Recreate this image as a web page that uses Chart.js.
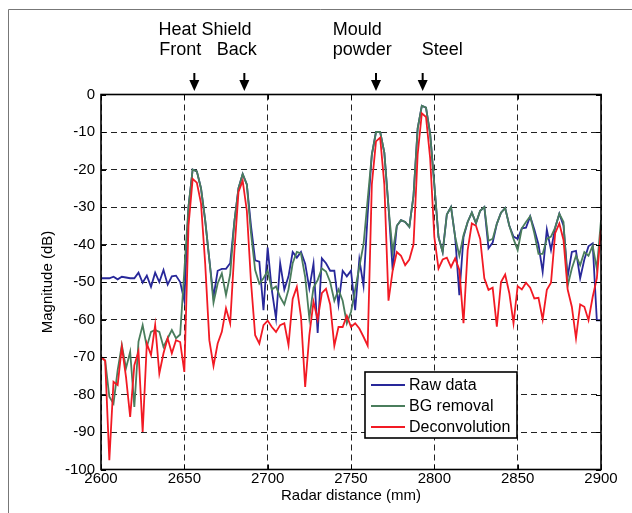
<!DOCTYPE html>
<html>
<head>
<meta charset="utf-8">
<title>Radar range profile</title>
<script src="https://cdn.jsdelivr.net/npm/chart.js@4.4.0/dist/chart.umd.min.js"></script>
<style>
  html, body { margin: 0; padding: 0; background: #fff; }
  #wrap { width: 632px; height: 513px; }
</style>
</head>
<body>
<div id="wrap"><canvas id="radarChart" width="632" height="513"></canvas></div>
<script>
// sampling of the range profile (mm)
const startDistance = 2600;
const stepDistance = 2.5;

// magnitude (dB), one value per sample
const rawData = [
  -49, -49, -49, -48.6, -49.3, -48.6, -48.8, -49, -49, -47.5,
  -50.2, -48.3, -51.3, -47.5, -50, -46.8, -50.7, -48.5, -48.3, -50,
  -55, -30, -20, -20.5, -25, -33.5, -44, -54, -47, -46.5,
  -46.5, -45, -34, -25, -21.2, -24, -35, -44.2, -44.6, -57.5,
  -40.8, -52.2, -59.7, -45, -52, -48.5, -42, -43.5, -42, -45.1,
  -51.7, -45.1, -63.6, -43.7, -45, -47, -47, -56, -47, -48.5,
  -47, -57.5, -44, -51, -32, -16, -10, -10, -15.5, -30,
  -46.8, -35, -33.5, -34, -35.3, -27, -9, -3, -3.5, -10.5,
  -24, -38, -42, -32, -30, -38, -53.5, -38, -34, -31.5,
  -34.3, -31, -30, -41, -39.5, -34.5, -31.5, -30.3, -35, -37.9,
  -38.5, -35.7, -35.5, -32.5, -36, -40, -47.3, -36, -41.5, -35.5,
  -31.8, -35, -48.6, -42, -41.7, -49, -44, -40.5, -39.7, -60.2,
  -60.2
];

const bgRemoval = [
  -70, -70.9, -80.6, -82.4, -73.5, -66.8, -73, -68.6, -83.3, -65.9,
  -61.5, -67.3, -63.3, -62.8, -63.3, -67.3, -65, -62.8, -65, -64,
  -47, -29.8, -20, -20.5, -25, -33.5, -44, -55.5, -50.4, -47.7,
  -53.5, -48, -34, -25, -21.2, -24, -37, -46.8, -50.4, -49,
  -47, -52, -51.2, -54, -56, -52, -45, -42, -42.4, -48.6,
  -59.7, -51.5, -49.5, -46.4, -47.2, -50, -55, -52, -55, -61,
  -58, -52, -46, -40, -28, -16, -10, -10, -15.5, -30,
  -42, -35, -33.5, -34, -35.3, -27, -9, -3, -3.5, -10.5,
  -24, -38, -42, -32, -30, -38, -43, -37.5, -34, -31.5,
  -34.3, -31, -30, -39, -38.5, -34.5, -31.5, -30.3, -35, -38.5,
  -41.5, -35.7, -34, -32.5, -37, -42.5, -42.5, -38.5, -37.9, -35.5,
  -31.8, -34, -51, -46.4, -43, -45.5, -42, -43, -40.3, -46.5,
  -33.5
];

const deconvolution = [
  -70, -71, -97.5, -76.6, -77.5, -67.3, -75.3, -86, -72.2, -68.5,
  -90, -66.4, -69.5, -61.5, -74.4, -69, -65, -69, -65.5, -66,
  -74, -35, -22.5, -23.5, -29, -45, -65.5, -72.4, -66.4, -63.3,
  -57, -61, -42, -26, -23, -31, -50, -64.2, -66.4, -61.5,
  -60.3, -62, -63.3, -61.5, -61, -66.8, -54.5, -51.3, -59.3, -78,
  -64.2, -55.3, -60, -53, -51.8, -56, -67, -62, -62, -59,
  -62, -61, -62.4, -64.6, -67, -24, -12.5, -11.5, -24, -55,
  -47, -42, -43, -45.5, -44, -40, -16, -5, -6, -17,
  -38, -46.4, -44, -43.5, -46, -43.7, -46.8, -61, -41.5, -34.4,
  -35, -38.5, -49, -52.1, -51.5, -61.9, -50, -48, -53, -61,
  -51.1, -52, -50.2, -51.5, -54.4, -54.2, -60, -52.1, -50.2, -37,
  -34.4, -38.8, -52, -56.6, -65, -56, -56.6, -60.2, -54, -49,
  -36
];

const distance = rawData.map((_, i) => startDistance + i * stepDistance);

// axis ticks
const xTicks = [2600, 2650, 2700, 2750, 2800, 2850, 2900];
const yTicks = [-100, -90, -80, -70, -60, -50, -40, -30, -20, -10, 0];

// features pointed at by arrows (mm)
const markerDistance = [2656, 2686, 2765, 2793];
// header text above the arrows: text, left edge (mm), row
const headerText = [
  ['Heat Shield', 2634.5, 0],
  ['Front', 2635, 1],
  ['Back', 2669.5, 1],
  ['Mould', 2739, 0],
  ['powder', 2739, 1],
  ['Steel', 2792.5, 1]
];

const fontFamily = "'Liberation Sans', Arial, Helvetica, sans-serif";
const axisFont = { family: fontFamily, size: 15 };

function toPoints(values) {
  return values.map((v, i) => ({ x: distance[i], y: v }));
}

// box, inward ticks, legend, arrows and header text
const framePlugin = {
  id: 'frame',
  afterDraw(chart) {
    const ctx = chart.ctx;
    const area = chart.chartArea;
    const xs = chart.scales.x;
    const ys = chart.scales.y;

    ctx.save();
    ctx.strokeStyle = '#000';
    ctx.lineWidth = 1;
    ctx.beginPath();
    xTicks.forEach((v) => {
      const px = Math.round(xs.getPixelForValue(v)) + 0.5;
      ctx.moveTo(px, area.bottom); ctx.lineTo(px, area.bottom - 5);
      ctx.moveTo(px, area.top); ctx.lineTo(px, area.top + 5);
    });
    yTicks.forEach((v) => {
      const py = Math.round(ys.getPixelForValue(v)) + 0.5;
      ctx.moveTo(area.left, py); ctx.lineTo(area.left + 5, py);
      ctx.moveTo(area.right, py); ctx.lineTo(area.right - 5, py);
    });
    ctx.stroke();

    ctx.lineWidth = 1.6;
    ctx.strokeRect(area.left, area.top, area.right - area.left, area.bottom - area.top);

    // legend
    const box = { left: 365, top: 372, width: 152, height: 66 };
    ctx.fillStyle = '#fff';
    ctx.fillRect(box.left, box.top, box.width, box.height);
    ctx.lineWidth = 1.6;
    ctx.strokeRect(box.left, box.top, box.width, box.height);
    ctx.font = '16px ' + fontFamily;
    ctx.textBaseline = 'middle';
    ctx.textAlign = 'left';
    chart.data.datasets.forEach((ds, i) => {
      const y = box.top + 13 + i * 21;
      ctx.strokeStyle = ds.borderColor;
      ctx.lineWidth = 1.8;
      ctx.beginPath();
      ctx.moveTo(box.left + 6, y);
      ctx.lineTo(box.left + 40, y);
      ctx.stroke();
      ctx.fillStyle = '#000';
      ctx.fillText(ds.label, box.left + 44, y + 1);
    });

    // arrows
    ctx.fillStyle = '#000';
    ctx.strokeStyle = '#000';
    markerDistance.forEach((d) => {
      const px = xs.getPixelForValue(d);
      ctx.lineWidth = 2;
      ctx.beginPath();
      ctx.moveTo(px, 73);
      ctx.lineTo(px, 82);
      ctx.stroke();
      ctx.beginPath();
      ctx.moveTo(px - 5, 80);
      ctx.lineTo(px + 5, 80);
      ctx.lineTo(px, 91);
      ctx.closePath();
      ctx.fill();
    });

    ctx.font = '18px ' + fontFamily;
    ctx.textBaseline = 'alphabetic';
    headerText.forEach(([text, d, row]) => {
      ctx.fillText(text, xs.getPixelForValue(d), 35 + row * 20);
    });

    // figure border
    ctx.strokeStyle = '#777';
    ctx.lineWidth = 1;
    ctx.beginPath();
    ctx.moveTo(8.5, 513);
    ctx.lineTo(8.5, 9.5);
    ctx.lineTo(632, 9.5);
    ctx.stroke();
    ctx.restore();
  }
};

new Chart(document.getElementById('radarChart'), {
  type: 'line',
  data: {
    datasets: [
      { label: 'Raw data', data: toPoints(rawData), borderColor: '#28289a', order: 3 },
      { label: 'BG removal', data: toPoints(bgRemoval), borderColor: '#4a7d5c', order: 2 },
      { label: 'Deconvolution', data: toPoints(deconvolution), borderColor: '#f21a24', order: 1 }
    ]
  },
  options: {
    responsive: false,
    animation: false,
    devicePixelRatio: 1,
    layout: { padding: { left: 34.6, top: 94.5, right: 31, bottom: 6.6 } },
    elements: {
      line: { borderWidth: 1.8, tension: 0, fill: false },
      point: { radius: 0 }
    },
    plugins: { legend: { display: false }, tooltip: { enabled: false } },
    scales: {
      x: {
        type: 'linear',
        min: 2600,
        max: 2900,
        afterBuildTicks: (s) => { s.ticks = xTicks.map((v) => ({ value: v })); },
        afterFit: (s) => { s.height = 36.9; },
        ticks: { color: '#000', font: axisFont, padding: 0, maxRotation: 0, callback: (v) => String(v) },
        grid: { color: '#222', lineWidth: 1, drawTicks: false },
        border: { display: false, dash: [6, 4] },
        title: { display: true, text: 'Radar distance (mm)', color: '#000', font: axisFont, padding: { top: 0, bottom: 2 } }
      },
      y: {
        type: 'linear',
        min: -100,
        max: 0,
        afterBuildTicks: (s) => { s.ticks = yTicks.map((v) => ({ value: v })); },
        afterFit: (s) => { s.width = 66.4; },
        ticks: { color: '#000', font: axisFont, padding: 6, callback: (v) => String(v) },
        grid: { color: '#222', lineWidth: 1, drawTicks: false },
        border: { display: false, dash: [6, 4] },
        title: { display: true, text: 'Magnitude (dB)', color: '#000', font: axisFont, padding: { top: 4, bottom: 0 } }
      }
    }
  },
  plugins: [framePlugin]
});
</script>
</body>
</html>
